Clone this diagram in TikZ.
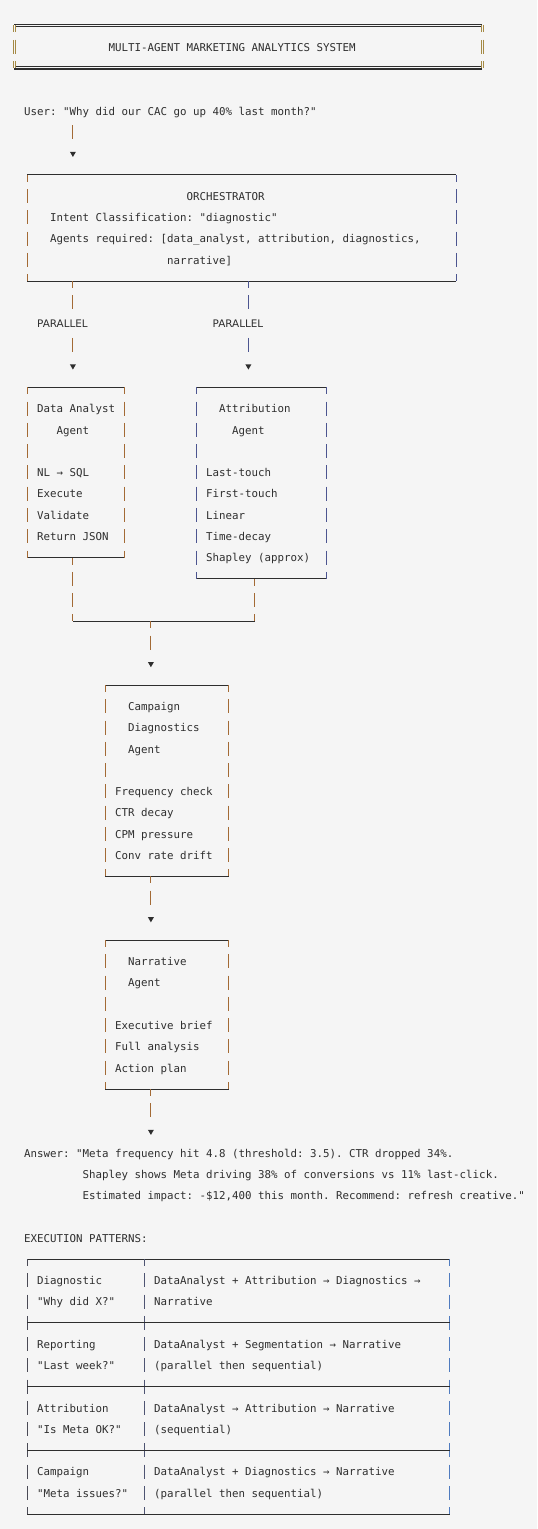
\documentclass[tikz,border=0pt]{standalone}
\usepackage{fontspec}
\setmonofont{DejaVu Sans Mono}
\newfontfamily\labelfont{DejaVu Sans}
\usetikzlibrary{shapes.geometric}

\definecolor{pagebg}{HTML}{F5F5F5}
\definecolor{ink}{HTML}{2E2E2E}
\definecolor{rust}{HTML}{A36A35}
\definecolor{navy}{HTML}{4C5590}
\definecolor{graphite}{HTML}{4A4A55}
\definecolor{slate}{HTML}{4E5472}
\definecolor{steel}{HTML}{4F7BBF}
\definecolor{brass}{HTML}{A58A45}

\begin{document}
\begin{tikzpicture}[x=3.25pt,y=-10.63pt]

  \tikzstyle{every node}=[inner sep=0pt, outer sep=0pt]
  \tikzstyle{txt}=[anchor=base west, font=\fontsize{5.4pt}{6pt}\ttfamily, text=ink]
  \tikzstyle{lbl}=[anchor=base west, font=\fontsize{5.2pt}{6pt}\labelfont, text=ink, fill=pagebg, text height=6pt, text depth=2pt]
  \tikzstyle{frame}=[anchor=center, rectangle]
  \tikzstyle{hbar}=[draw=ink, line width=0.5pt]
  \tikzstyle{vbar}=[line width=0.55pt, dash pattern=on 7pt off 3.63pt, dash phase=3.5pt]
  \tikzstyle{dbl}=[line width=0.55pt, double=pagebg, double distance=0.55pt]
  \tikzstyle{tip}=[regular polygon, regular polygon sides=3, shape border rotate=180, fill=ink, minimum size=3.4pt, anchor=center]

  \fill[pagebg] (-2.2154,-1.2230) rectangle (80.4,70.696);
  \useasboundingbox (-2.2154,-1.2230) rectangle (80.4,70.696);

  % boxes, one column = one character, one row = one line
  \node[frame, minimum width=72*3.25pt, minimum height=2*10.63pt] (title) at (36,0.97) {};
  \node[frame, minimum width=66*3.25pt, minimum height=5*10.63pt] (orch) at (35,9.5) {};
  \node[frame, minimum width=15*3.25pt, minimum height=8*10.63pt] (da) at (9.5,21) {};
  \node[frame, minimum width=20*3.25pt, minimum height=9*10.63pt] (attr) at (38,21.5) {};
  \node[frame, minimum width=19*3.25pt, minimum height=9*10.63pt] (diag) at (23.5,35.5) {};
  \node[frame, minimum width=19*3.25pt, minimum height=7*10.63pt] (narr) at (23.5,46.5) {};
  \node[frame, minimum width=65*3.25pt, minimum height=12*10.63pt] (pat) at (34.5,64) {};

  \draw[dbl, draw=ink] (title.north west) -- (title.north east);
  \draw[dbl, draw=ink] (title.south west) -- (title.south east);
  \draw[vbar, dbl, draw=brass] (title.north west) -- (title.south west) (title.north east) -- (title.south east);

  \foreach \n/\lc/\rc in {orch/rust/navy, da/rust/rust, attr/navy/navy, diag/rust/rust, narr/rust/rust, pat/graphite/steel}
  {
    \draw[hbar] (\n.north west) -- (\n.north east) (\n.south west) -- (\n.south east);
    \draw[vbar, draw=\lc] (\n.north west) -- (\n.south west);
    \draw[vbar, draw=\rc] (\n.north east) -- (\n.south east);
  }

  \draw[vbar, draw=slate] (20,58) -- (20,70);
  \foreach \ry in {61,64,67}
    \draw[hbar] (2,\ry) -- (67,\ry);

  % arrow heads
  \node[tip] (tipuser) at (9,6) {};
  \node[tip] (tipda) at (9,16) {};
  \node[tip] (tipattr) at (36,16) {};
  \node[tip] (tipdiag) at (21,30) {};
  \node[tip] (tipnarr) at (21,42) {};
  \node[tip] (tipans) at (21,52) {};

  \coordinate (userout) at (9,4.5);
  \coordinate (joinl) at (9,28);
  \coordinate (joinm) at (21,28);
  \coordinate (joinr) at (37,28);

  \draw[vbar, draw=rust, dash phase=8.815pt, shorten >=4pt] (userout) -- (tipuser);
  \draw[vbar, draw=rust, shorten >=4pt] (orch.south -| tipda) -- (tipda);
  \draw[vbar, draw=navy, shorten >=4pt] (orch.south -| tipattr) -- (tipattr);
  \draw[vbar, draw=rust] (da.south -| joinl) -- (joinl);
  \draw[vbar, draw=rust] (attr.south -| joinr) -- (joinr);
  \draw[hbar] (joinl) -- (joinr);
  \draw[vbar, draw=rust, shorten >=4pt] (joinm) -- (tipdiag);
  \draw[vbar, draw=rust, shorten >=4pt] (diag.south -| tipnarr) -- (tipnarr);
  \draw[vbar, draw=rust, shorten >=4pt] (narr.south -| tipans) -- (tipans);

  \node[lbl] (parl) at (3.5,14.2) {PARALLEL};
  \node[lbl] (parr) at (30.5,14.2) {PARALLEL};

  % texts
  \node[txt] (titletxt) at (14.5,1.2) {MULTI-AGENT MARKETING ANALYTICS SYSTEM};
  \node[txt] (user) at (1.5,4.2) {User: "Why did our CAC go up 40\% last month?"};

  \foreach \cx/\ry/\words in {27/8/ORCHESTRATOR, 6/9/{Intent Classification: "diagnostic"},
    6/10/{Agents required: [data\_analyst, attribution, diagnostics,}, 24/11/{narrative]}}
    \node[txt] (orch\ry) at (\cx-0.5,\ry+0.2) {\words};

  \foreach \cx/\ry/\words in {4/18/Data Analyst, 7/19/Agent, 4/21/{NL → SQL}, 4/22/Execute, 4/23/Validate, 4/24/Return JSON}
    \node[txt] (da\ry) at (\cx-0.5,\ry+0.2) {\words};

  \foreach \cx/\ry/\words in {32/18/Attribution, 34/19/Agent, 30/21/Last-touch, 30/22/First-touch, 30/23/Linear,
    30/24/Time-decay, 30/25/{Shapley (approx)}}
    \node[txt] (attr\ry) at (\cx-0.5,\ry+0.2) {\words};

  \foreach \cx/\ry/\words in {18/32/Campaign, 18/33/Diagnostics, 18/34/Agent, 16/36/Frequency check, 16/37/CTR decay,
    16/38/CPM pressure, 16/39/Conv rate drift}
    \node[txt] (diag\ry) at (\cx-0.5,\ry+0.2) {\words};

  \foreach \cx/\ry/\words in {18/44/Narrative, 18/45/Agent, 16/47/Executive brief, 16/48/Full analysis, 16/49/Action plan}
    \node[txt] (narr\ry) at (\cx-0.5,\ry+0.2) {\words};

  \foreach \cx/\ry/\words in {2/53/{Answer: "Meta frequency hit 4.8 (threshold: 3.5). CTR dropped 34\%.},
    11/54/{Shapley shows Meta driving 38\% of conversions vs 11\% last-click.},
    11/55/{Estimated impact: -\$12,400 this month. Recommend: refresh creative."},
    2/57/{EXECUTION PATTERNS:}}
    \node[txt] (ans\ry) at (\cx-0.5,\ry+0.2) {\words};

  \foreach \cx/\ry/\words in {4/59/Diagnostic, 4/60/{"Why did X?"}, 4/62/Reporting, 4/63/{"Last week?"},
    4/65/Attribution, 4/66/{"Is Meta OK?"}, 4/68/Campaign, 4/69/{"Meta issues?"}}
    \node[txt] (kind\ry) at (\cx-0.5,\ry+0.2) {\words};

  \foreach \cx/\ry/\words in {22/59/{DataAnalyst + Attribution → Diagnostics →}, 22/60/Narrative,
    22/62/{DataAnalyst + Segmentation → Narrative}, 22/63/{(parallel then sequential)},
    22/65/{DataAnalyst → Attribution → Narrative}, 22/66/{(sequential)},
    22/68/{DataAnalyst + Diagnostics → Narrative}, 22/69/{(parallel then sequential)}}
    \node[txt] (flow\ry) at (\cx-0.5,\ry+0.2) {\words};

\end{tikzpicture}
\end{document}
